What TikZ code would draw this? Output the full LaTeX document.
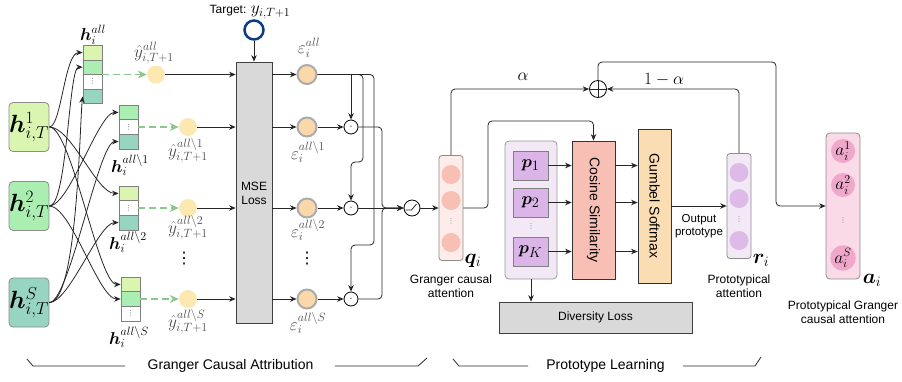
\documentclass[tikz,border=0pt]{standalone}
\usepackage[no-math]{fontspec}
\setmainfont{Liberation Sans}
\newfontfamily\dvu{DejaVu Sans}
\usepackage{bm}
\usetikzlibrary{arrows.meta}
\definecolor{cLime}{HTML}{DAF5B0}
\definecolor{cGreen}{HTML}{AAEEB2}
\definecolor{cTeal}{HTML}{98D4C2}
\definecolor{cYel}{HTML}{FDE8B2}
\definecolor{cEps}{HTML}{FBD8AA}
\definecolor{cGray}{HTML}{D9D9D9}
\definecolor{cBlue}{HTML}{0B3C86}
\definecolor{cDash}{HTML}{8CC88C}
\definecolor{cQbg}{HTML}{FDECE9}
\definecolor{cSalmon}{HTML}{F8C0B4}
\definecolor{cLav}{HTML}{F3E8F6}
\definecolor{cLilac}{HTML}{DBB4E8}
\definecolor{cRc}{HTML}{DDBAE8}
\definecolor{cPeach}{HTML}{FBDDB4}
\definecolor{cAbg}{HTML}{F9DAE6}
\definecolor{cPink}{HTML}{F0A8CA}
\newcommand{\vd}{{\dvu ⋮}}
\begin{document}
\begin{tikzpicture}[x=1pt,y=-1pt,
  font=\fontsize{12}{14}\selectfont,
  >={Stealth[length=6.5pt,width=5.5pt]},
  conn/.style={draw=black!85,line width=0.8pt,->},
  ln/.style={draw=black!85,line width=0.8pt},
  inbox/.style={draw=black!45,line width=0.8pt,rounded corners=4pt,minimum width=38,minimum height=49,inner sep=0,font=\fontsize{24}{26}\selectfont},
  cell/.style={draw=black!50,line width=0.8pt,minimum width=19,minimum height=14.6,inner sep=0,font=\fontsize{7}{7}\selectfont,text=black!60},
  stackbox/.style={minimum width=19,minimum height=43.8,inner sep=0},
  yhat/.style={circle,fill=cYel,minimum size=18,inner sep=0},
  eps/.style={circle,fill=cEps,draw=black!33,line width=2pt,minimum size=19,inner sep=0},
  minus/.style={circle,draw=black,fill=white,line width=0.8pt,minimum size=14,inner sep=0,font=\fontsize{7}{7}\selectfont},
  gdash/.style={draw=cDash,line width=1.8pt,dash pattern=on 7pt off 4pt,-{Stealth[length=9pt,width=8pt]}},
  mlab/.style={font=\fontsize{18}{20}\selectfont,inner sep=0},
  glab/.style={mlab,text=black!70},
  big/.style={font=\fontsize{16}{18}\selectfont,inner sep=0},
  colbox/.style={draw=black!45,line width=0.8pt,rounded corners=3pt,minimum width=24,minimum height=105,inner sep=0},
  qc/.style={circle,fill=cSalmon,minimum size=19,inner sep=0},
  rc/.style={circle,fill=cRc,minimum size=19,inner sep=0},
  ac/.style={circle,fill=cPink,minimum size=24,inner sep=0,font=\fontsize{18}{20}\selectfont},
  sdots/.style={font=\fontsize{7}{7}\selectfont,text=black!55,inner sep=0},
  pbox/.style={draw=black!50,fill=cLilac,line width=0.8pt,minimum width=35,minimum height=29,inner sep=0,font=\fontsize{19}{20}\selectfont},
  tallbox/.style={draw=black!80,line width=0.8pt,inner sep=0},
  brk/.style={draw=black!85,line width=0.8pt},
  blab/.style={font=\fontsize{14}{16}\selectfont,inner sep=0},
  txt/.style={align=center,inner sep=0,font=\fontsize{12}{14}\selectfont},
]
\useasboundingbox (0,0) rectangle (902,381);

% ---------- input boxes
\node[inbox,fill=cLime] (h1) at (29,127) {$\bm{h}^1_{i,T}$};
\node[inbox,fill=cGreen] (h2) at (29,206) {$\bm{h}^2_{i,T}$};
\node[inbox,fill=cTeal] (hS) at (29,302.5) {$\bm{h}^S_{i,T}$};

% ---------- stacks
\node[cell,fill=cLime]  (a1) at (92.5,52.6) {};
\node[cell,fill=cGreen] (a2) at (92.5,67.2) {};
\node[cell,fill=white]  (a3) at (92.5,81.8) {\vd};
\node[cell,fill=cTeal]  (a4) at (92.5,96.4) {};
\node[minimum width=19,minimum height=58.4,inner sep=0] (sA) at (92.5,74.5) {};

\node[cell,fill=cGreen] (b1) at (128.5,112.4) {};
\node[cell,fill=white]  (b2) at (128.5,127) {\vd};
\node[cell,fill=cTeal]  (b3) at (128.5,141.6) {};
\node[stackbox] (s1) at (128.5,127) {};

\node[cell,fill=cLime]  (c1) at (128.5,193.4) {};
\node[cell,fill=white]  (c2) at (128.5,208) {\vd};
\node[cell,fill=cTeal]  (c3) at (128.5,222.6) {};
\node[stackbox] (s2) at (128.5,208) {};

\node[cell,fill=cLime]  (d1) at (130.5,284.4) {};
\node[cell,fill=cGreen] (d2) at (130.5,299) {};
\node[cell,fill=white]  (d3) at (130.5,313.6) {\vd};
\node[stackbox] (sS) at (130.5,299) {};

\node[mlab] at (93,35) {$\bm{h}_i^{all}$};
\node[mlab] at (130,165) {$\bm{h}_i^{all\backslash 1}$};
\node[mlab] at (128,242) {$\bm{h}_i^{all\backslash 2}$};
\node[mlab] at (129,337) {$\bm{h}_i^{all\backslash S}$};

% ---------- input -> stacks
\draw[conn] (h1.east) .. controls +(12,0) and +(-18,0) .. (a1.west);
\draw[conn] (h1.east) .. controls +(22,0) and +(-22,0) .. (c1.west);
\draw[conn] (h1.east) .. controls +(22,0) and +(-22,0) .. (d1.west);
\draw[conn] (h2.east) .. controls +(18,0) and +(-14,0) .. (a2.west);
\draw[conn] (h2.east) .. controls +(20,0) and +(-20,0) .. (b1.west);
\draw[conn] (h2.east) .. controls +(22,0) and +(-22,0) .. (d2.west);
\draw[conn] (hS.east) .. controls +(28,0) and +(-3,30) .. (a4.west);
\draw[conn] (hS.east) .. controls +(20,0) and +(-20,0) .. (b3.west);
\draw[conn] (hS.east) .. controls +(20,0) and +(-20,0) .. (c3.west);

% ---------- y hat
\node[yhat] (yA) at (156,74.5) {};
\node[yhat] (y1) at (188,127) {};
\node[yhat] (y2) at (188,208) {};
\node[yhat] (yS) at (188,299) {};
\node[big] at (184,259) {\vd};
\node[glab] at (154,53) {$\hat{y}_{i,T+1}^{all}$};
\node[glab] at (188,151) {$\hat{y}_{i,T+1}^{all\backslash 1}$};
\node[glab] at (188,228) {$\hat{y}_{i,T+1}^{all\backslash 2}$};
\node[glab] at (188,322) {$\hat{y}_{i,T+1}^{all\backslash S}$};

\draw[gdash] (sA.east) -- (yA.west);
\draw[gdash] (s1.east) -- (y1.west);
\draw[gdash] (s2.east) -- (y2.west);
\draw[gdash] (sS.east) -- (yS.west);

% ---------- MSE
\node[tallbox,draw=black!75,fill=cGray,minimum width=36,minimum height=261] (mse) at (254,192.5) {};
\node[txt] at (254,193) {MSE\\Loss};
\node[circle,draw=cBlue,line width=2.5pt,fill=white,minimum size=19,inner sep=0] (tgt) at (254,30) {};
\node[inner sep=0] at (250,12) {Target: {\fontsize{18}{20}\selectfont$y_{i,T+1}$}};
\draw[conn] (tgt.south) -- (mse.north);

\draw[conn] (yA.east) -- (yA.east -| mse.west);
\draw[conn] (y1.east) -- (y1.east -| mse.west);
\draw[conn] (y2.east) -- (y2.east -| mse.west);
\draw[conn] (yS.east) -- (yS.east -| mse.west);

% ---------- eps
\node[eps] (eA) at (307,74.5) {};
\node[eps] (e1) at (307,127) {};
\node[eps] (e2) at (307,208) {};
\node[eps] (eS) at (307,299) {};
\node[big] at (307,259) {\vd};
\node[glab] at (309,48) {$\varepsilon_i^{all}$};
\node[glab] at (308,152) {$\varepsilon_i^{all\backslash 1}$};
\node[glab] at (308,230) {$\varepsilon_i^{all\backslash 2}$};
\node[glab] at (308,323) {$\varepsilon_i^{all\backslash S}$};

\draw[conn] (eA.west -| mse.east) -- (eA.west);
\draw[conn] (e1.west -| mse.east) -- (e1.west);
\draw[conn] (e2.west -| mse.east) -- (e2.west);
\draw[conn] (eS.west -| mse.east) -- (eS.west);

% ---------- minus
\node[minus] (m1) at (351,127) {-};
\node[minus] (m2) at (351,208) {-};
\node[minus] (mS) at (351,299) {-};
\draw[conn] (e1.east) -- (m1.west);
\draw[conn] (e2.east) -- (m2.west);
\draw[conn] (eS.east) -- (mS.west);

\draw[conn] (eA.east) -| (m1.north);
\draw[conn,rounded corners=4pt] (eA.east) -- (363,74.5) -- (363,162) -- (351,162) -- (m2.north);
\draw[conn,rounded corners=4pt] (eA.east) -- (374,74.5) -- (374,245) -- (351,245) -- (mS.north);

% ---------- switch
\node[circle,draw=black,fill=white,line width=0.8pt,minimum size=16,inner sep=0] (sw) at (412,208) {};
\draw[ln] (sw.center) ++(-6.5,2) -- ++(6,0) -- ++(5,-6);
\draw[conn,rounded corners=4pt] (m1.east) -- (382,127) -- (382,208) -- (sw.west);
\draw[conn] (m2.east) -- (sw.west);
\draw[conn,rounded corners=4pt] (mS.east) -- (382,299) -- (382,208) -- (sw.west);

% ---------- q
\node[colbox,fill=cQbg] (q) at (451,208) {};
\node[qc] at (451,174.5) {};
\node[qc] at (451,200.5) {};
\node[sdots] at (451,221) {\vd};
\node[qc] at (451,242.5) {};
\node[font=\fontsize{20}{22}\selectfont,inner sep=0] at (473,261) {$\bm{q}_i$};
\node[txt] at (451,286) {Granger causal\\attention};
\draw[conn] (sw.east) -- (q.west);

% ---------- plus
\node[circle,draw=black,fill=white,line width=0.8pt,minimum size=17,inner sep=0] (pl) at (598,89) {};
\draw[ln] (pl.north) -- (pl.south) (pl.west) -- (pl.east);
\draw[conn,rounded corners=4pt] (q.north) |- (pl.west);
\node[mlab] at (523,77) {$\alpha$};

% ---------- prototypes
\node[draw=black!40,fill=cLav,line width=0.8pt,rounded corners=4pt,minimum width=52,minimum height=138,inner sep=0] (pc) at (531,210) {};
\node[pbox] (p1) at (530.5,165.5) {$\bm{p}_1$};
\node[pbox] (p2) at (530.5,202.5) {$\bm{p}_2$};
\node[sdots] at (531,226) {\vd};
\node[pbox] (pK) at (530.5,251.5) {$\bm{p}_K$};

\node[tallbox,fill=cSalmon,minimum width=43,minimum height=138] (cs) at (593.5,210) {};
\node[rotate=-90,font=\fontsize{14}{16}\selectfont,inner sep=0] at (593.5,210) {Cosine Similarity};
\node[tallbox,fill=cPeach,minimum width=33,minimum height=154] (gs) at (654.5,206) {};
\node[rotate=-90,font=\fontsize{14}{16}\selectfont,inner sep=0] at (654.5,206) {Gumbel Softmax};

\draw[conn,rounded corners=4pt] (q.east) -- (488,208) -- (488,121) -- (593.5,121) -- (cs.north);

\draw[conn] (p1.east) -- (p1.east -| cs.west);
\draw[conn] (p2.east) -- (p2.east -| cs.west);
\draw[conn] (pK.east) -- (pK.east -| cs.west);
\draw[conn] (p1.east -| cs.east) -- (p1.east -| gs.west);
\draw[conn] (p2.east -| cs.east) -- (p2.east -| gs.west);
\draw[conn] (pK.east -| cs.east) -- (pK.east -| gs.west);

\node[tallbox,draw=black!75,fill=cGray,minimum width=193,minimum height=31] (dl) at (595.5,317.5) {};
\node[inner sep=0] at (595.5,317.5) {Diversity Loss};
\draw[conn] (pc.south) -- (pc.south |- dl.north);

% ---------- r
\node[colbox,fill=cLav] (r) at (739,206) {};
\node[rc] at (739,172.5) {};
\node[rc] at (739,198.5) {};
\node[sdots] at (739,219) {\vd};
\node[rc] at (739,240.5) {};
\node[font=\fontsize{20}{22}\selectfont,inner sep=0] at (761,260) {$\bm{r}_i$};
\node[txt] at (739,286) {Prototypical\\attention};
\draw[conn] (gs.east) -- (r.west);
\node[txt,font=\fontsize{11.5}{13.5}\selectfont] at (699,226) {Output\\prototype};
\draw[conn,rounded corners=4pt] (r.north) |- (pl.east);
\node[mlab] at (664,80) {$1-\alpha$};

% ---------- a
\node[draw=black!45,fill=cAbg,line width=0.8pt,rounded corners=4pt,minimum width=34,minimum height=146,inner sep=0] (a) at (843,206) {};
\node[ac] at (843,151) {$a_i^1$};
\node[ac] at (843,185) {$a_i^2$};
\node[sdots] at (843,220) {\vd};
\node[ac] at (843,258) {$a_i^S$};
\node[font=\fontsize{20}{22}\selectfont,inner sep=0] at (872,280) {$\bm{a}_i$};
\node[txt] at (843,312) {Prototypical Granger\\causal attention};
\draw[conn,rounded corners=4pt] (pl.north) -- (598,62) -- (776,62) -- (776,206) -- (a.west);

% ---------- brackets
\draw[brk] (27,359) -- (33,366) -- (125,366);
\node[blab] at (230.5,366) {Granger Causal Attribution};
\draw[brk] (335,366) -- (418,366) -- (427,358);
\draw[brk] (453,359) -- (459,366) -- (528,366);
\node[blab] at (605.5,366) {Prototype Learning};
\draw[brk] (683,366) -- (755,366) -- (761,357);
\end{tikzpicture}
\end{document}
